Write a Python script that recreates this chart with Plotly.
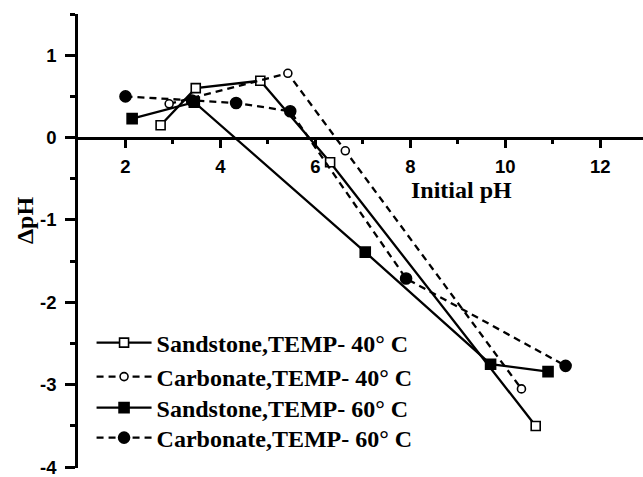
import plotly.graph_objects as go

# Initial pH vs change in pH for two rock types at two temperatures
sand40_x = [2.74, 3.48, 4.84, 6.31, 10.64]
sand40_y = [0.15, 0.60, 0.69, -0.30, -3.50]

carb40_x = [2.92, 5.42, 6.63, 10.34]
carb40_y = [0.41, 0.78, -0.16, -3.05]

sand60_x = [2.14, 3.45, 7.05, 9.69, 10.90]
sand60_y = [0.23, 0.43, -1.39, -2.75, -2.84]

carb60_x = [2.00, 3.40, 4.33, 5.47, 7.91, 11.27]
carb60_y = [0.50, 0.45, 0.42, 0.32, -1.71, -2.77]

names = [
    "Sandstone,TEMP- 40° C",
    "Carbonate,TEMP- 40° C",
    "Sandstone,TEMP- 60° C",
    "Carbonate,TEMP- 60° C",
]

x_ticks = [2, 4, 6, 8, 10, 12]
y_ticks = [-4, -3, -2, -1, 0, 1]

x_range = [1, 12.9]
y_range = [-4.01, 1.5]

DASH = "7px,5px"
fig = go.Figure()

# (x, y, name, dash, symbol, size, fill colour, legend id)
series = [
    (sand40_x, sand40_y, names[0], "solid", "square", 9, "white", "legend"),
    (carb40_x, carb40_y, names[1], DASH, "circle", 8, "white", "legend2"),
    (sand60_x, sand60_y, names[2], "solid", "square", 10, "black", "legend3"),
    (carb60_x, carb60_y, names[3], DASH, "circle", 11, "black", "legend4"),
]
for xs, ys, nm, dash, sym, sz, fill, lg in series:
    fig.add_trace(go.Scatter(
        x=xs, y=ys, name=nm, mode="lines+markers",
        line=dict(color="black", width=2.3, dash=dash),
        marker=dict(symbol=sym, size=sz, color=fill,
                    line=dict(color="black", width=1.6)),
        legend=lg,
    ))

tick_font = dict(family="Liberation Sans", size=18.5, color="black", weight="bold")
serif_font = dict(family="Liberation Serif", size=24, color="black", weight="bold")

# one legend box per series so the rows can be spaced freely
legend_rows = [0.2753, 0.2004, 0.1322, 0.0661]
legend_common = dict(x=0.024, xanchor="left", yanchor="middle",
                     font=serif_font, bgcolor="rgba(0,0,0,0)", itemwidth=55)

# x axis crosses at y = 0
y0_paper = (0 - y_range[0]) / (y_range[1] - y_range[0])

fig.update_layout(
    width=643, height=477,
    margin=dict(l=78, r=0, t=14, b=9, autoexpand=False),
    paper_bgcolor="white", plot_bgcolor="white",
    showlegend=True,
    legend=dict(y=legend_rows[0], **legend_common),
    legend2=dict(y=legend_rows[1], **legend_common),
    legend3=dict(y=legend_rows[2], **legend_common),
    legend4=dict(y=legend_rows[3], **legend_common),
    xaxis=dict(
        range=x_range, anchor="free", position=y0_paper, automargin=False,
        showline=True, linecolor="black", linewidth=2.5,
        showgrid=False, zeroline=False,
        tickmode="array", tickvals=x_ticks,
        ticktext=[str(v) for v in x_ticks],
        ticks="outside", ticklen=9, tickwidth=2.5, tickcolor="black",
        minor=dict(tickvals=[3, 5, 7, 9, 11], ticks="outside", ticklen=5,
                   tickwidth=2.5, tickcolor="black"),
        tickfont=tick_font, ticklabelstandoff=2,
        ticklabeloverflow="allow",
    ),
    yaxis=dict(
        range=y_range, automargin=False,
        showline=True, linecolor="black", linewidth=2.5,
        showgrid=False, zeroline=False,
        tickmode="array", tickvals=y_ticks,
        ticktext=[str(v) for v in y_ticks],
        ticks="outside", ticklen=10, tickwidth=2.5, tickcolor="black",
        minor=dict(tickvals=[-3.5, -2.5, -1.5, -0.5, 0.5, 1.5], ticks="outside",
                   ticklen=5, tickwidth=2.5, tickcolor="black"),
        tickfont=tick_font, ticklabelstandoff=5,
        ticklabeloverflow="allow",
    ),
    annotations=[
        dict(text="Initial pH", xref="paper", yref="paper",
             x=0.679, y=0.612, xanchor="center", yanchor="middle",
             showarrow=False, font=serif_font),
        dict(text="ΔpH", xref="paper", yref="paper",
             x=-0.094, y=0.546, xanchor="center", yanchor="middle",
             textangle=-90, showarrow=False, font=serif_font),
    ],
)

fig.write_html("out.html")
